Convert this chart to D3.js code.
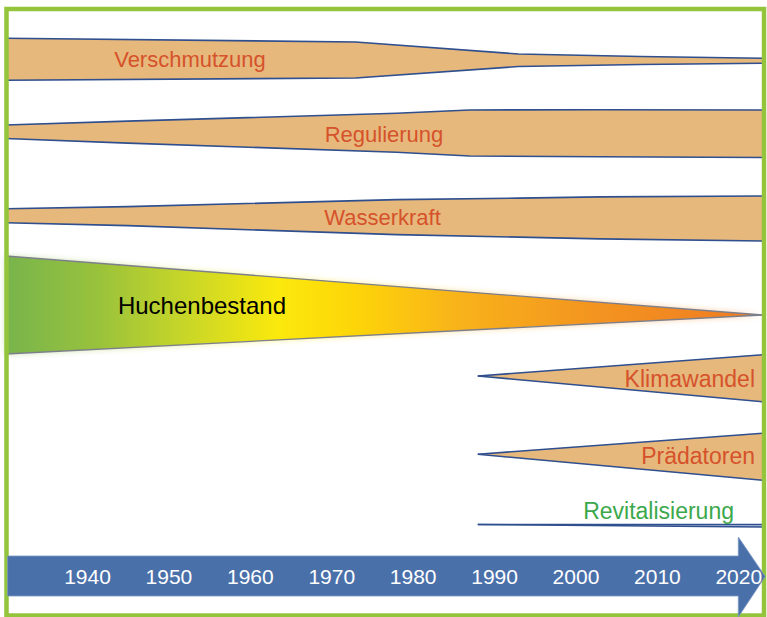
<!DOCTYPE html>
<html>
<head>
<meta charset="utf-8">
<script src="https://cdn.jsdelivr.net/npm/d3@7/dist/d3.min.js"></script>
<style>
  html, body { margin: 0; padding: 0; background: #fff; }
  svg { display: block; }
  text { font-family: "Liberation Sans", Arial, sans-serif; }
</style>
</head>
<body>
<svg id="chart" width="767" height="617"></svg>
<script>
// Timeline ticks
const tickYears = [1940, 1950, 1960, 1970, 1980, 1990, 2000, 2010, 2020];

// Relative intensity (0–10) of each pressure factor over time: [year, intensity]
const verschmutzung   = [[1930, 4.2], [1973, 3.6], [1993, 1.25], [2008, 0.8], [2023, 0.5]];
const regulierung     = [[1930, 1.35], [1945, 2.2], [1978, 3.9], [1987, 4.6], [2003, 4.7], [2023, 4.75]];
const wasserkraft     = [[1930, 1.4], [1945, 1.9], [1978, 3.5], [1993, 3.9], [2003, 4.2], [2023, 4.5]];
const huchenbestand   = [[1930, 9.8], [2023, 0]];
const klimawandel     = [[1988, 0], [2023, 4.7]];
const praedatoren     = [[1988, 0], [2023, 4.7]];
const revitalisierung = [[1988, 0], [2023, 0.25]];

const W = 767, H = 617;
const svg = d3.select("#chart");
const defs = svg.append("defs");

const x = d3.scaleLinear().domain([1940, 2020]).range([87, 738.3]);
const w = d3.scaleLinear().domain([0, 10]).range([0, 100]);

// Row layout: vertical centre at the start and end of each band
const rows = [
  { name: "Verschmutzung",   data: verschmutzung,   c: [59.2, 60.8],  kind: "pressure",
    label: { x: 190, y: 67, anchor: "middle", size: 22, color: "#d5522b" } },
  { name: "Regulierung",     data: regulierung,     c: [131.8, 133.7], kind: "pressure",
    label: { x: 384, y: 142, anchor: "middle", size: 22, color: "#d5522b" } },
  { name: "Wasserkraft",     data: wasserkraft,     c: [215.7, 218.5], kind: "pressure",
    label: { x: 382.5, y: 225, anchor: "middle", size: 22, color: "#d5522b" } },
  { name: "Huchenbestand",   data: huchenbestand,   c: [305, 315],    kind: "stock",
    label: { x: 202, y: 313.5, anchor: "middle", size: 24, color: "#000" } },
  { name: "Klimawandel",     data: klimawandel,     c: [376, 378.3],  kind: "pressure",
    label: { x: 755, y: 387, anchor: "end", size: 23, color: "#d5522b" } },
  { name: "Prädatoren",      data: praedatoren,     c: [454.3, 456.7], kind: "pressure",
    label: { x: 755, y: 464, anchor: "end", size: 23, color: "#d5522b" } },
  { name: "Revitalisierung", data: revitalisierung, c: [524.5, 525.7], kind: "relief",
    label: { x: 734, y: 518.5, anchor: "end", size: 23, color: "#3ba84c" } }
];

// Gradient for the fish stock wedge
const grad = defs.append("linearGradient")
  .attr("id", "stockGrad").attr("gradientUnits", "userSpaceOnUse")
  .attr("x1", x(1930)).attr("x2", x(2023)).attr("y1", 0).attr("y2", 0);
[
  [0.00, "#78b44c"], [0.12, "#98c23c"], [0.25, "#cdd826"], [0.36, "#fbe90c"],
  [0.46, "#fdd508"], [0.60, "#f8b21a"], [0.78, "#f39420"], [1.00, "#ef7a22"]
].forEach(([o, c]) => grad.append("stop").attr("offset", o).attr("stop-color", c));

const glow = defs.append("filter").attr("id", "glow")
  .attr("x", "-5%").attr("y", "-20%").attr("width", "110%").attr("height", "140%");
glow.append("feGaussianBlur").attr("stdDeviation", 3);

const bandsG = svg.append("g");

rows.forEach(r => {
  const y0 = r.data[0][0], y1 = r.data[r.data.length - 1][0];
  const centre = d3.scaleLinear().domain([y0, y1]).range(r.c);
  const top = d => centre(d[0]) - w(d[1]) / 2;
  const bot = d => centre(d[0]) + w(d[1]) / 2;

  const area = d3.area().x(d => x(d[0])).y0(top).y1(bot);
  const topLine = d3.line().x(d => x(d[0])).y(top);
  const botLine = d3.line().x(d => x(d[0])).y(bot);

  const g = bandsG.append("g").attr("class", "band");
  let fill = "#e7b87c", stroke = "#2f4f8e", sw = 1.6;
  if (r.kind === "stock") { fill = "url(#stockGrad)"; stroke = "#7d7f8c"; sw = 1.3; }
  if (r.kind === "relief") { fill = "#b9c7e0"; }

  if (r.kind === "stock") {
    g.append("path").datum(r.data).attr("d", area)
      .attr("fill", "url(#stockGrad)").attr("opacity", 0.45).attr("filter", "url(#glow)");
  }
  g.append("path").datum(r.data).attr("d", area).attr("fill", fill);
  g.append("path").datum(r.data).attr("d", topLine)
    .attr("fill", "none").attr("stroke", stroke).attr("stroke-width", sw);
  g.append("path").datum(r.data).attr("d", botLine)
    .attr("fill", "none").attr("stroke", stroke).attr("stroke-width", sw);

  svg.append("text")
    .attr("x", r.label.x).attr("y", r.label.y)
    .attr("text-anchor", r.label.anchor)
    .attr("font-size", r.label.size)
    .attr("fill", r.label.color)
    .text(r.name);
});

// Frame
svg.append("rect")
  .attr("x", 6.5).attr("y", 9).attr("width", 757.5).attr("height", 606.5)
  .attr("fill", "none").attr("stroke", "#94c43c").attr("stroke-width", 4.5);

// Time arrow
const bodyTop = 556, bodyBot = 596, headTop = 537, headBot = 617;
const xs = x(1930.25), xh = x(2020), xt = x(2023.3), ym = (bodyTop + bodyBot) / 2 + 0.5;
const arrow = d3.path();
arrow.moveTo(xs, bodyTop);
arrow.lineTo(xh, bodyTop);
arrow.lineTo(xh, headTop);
arrow.lineTo(xt, ym);
arrow.lineTo(xh, headBot);
arrow.lineTo(xh, bodyBot);
arrow.lineTo(xs, bodyBot);
arrow.closePath();
svg.append("path").attr("d", arrow.toString())
  .attr("fill", "#4a70aa").attr("stroke", "#7b97c4").attr("stroke-width", 0.8);

// Year labels along the arrow
const axis = d3.axisBottom(x).tickValues(tickYears).tickFormat(d3.format("d")).tickSize(0).tickPadding(0);
const axG = svg.append("g").attr("transform", `translate(0,${ym})`).call(axis);
axG.select(".domain").remove();
axG.selectAll("text")
  .attr("y", 0).attr("dy", "0.36em")
  .attr("fill", "#fff")
  .attr("font-size", 21)
  .attr("font-family", "'Liberation Sans', Arial, sans-serif");
</script>
</body>
</html>
